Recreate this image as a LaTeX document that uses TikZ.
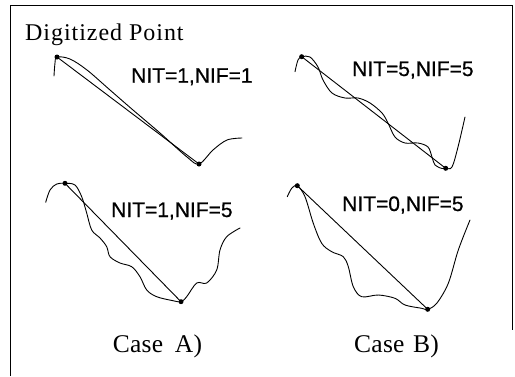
\documentclass[tikz,border=0pt]{standalone}
\usepackage{fontspec}
\setmainfont{Liberation Serif}
\newfontfamily\labelsans{Liberation Sans}
\begin{document}
\begin{tikzpicture}[x=1pt,y=-1pt,
  curve/.style={line width=0.9pt,line join=round,line cap=round},
  chord/.style={line width=0.9pt},
  digpt/.style={circle,fill=black,inner sep=0pt,minimum size=5pt},
  caselabel/.style={anchor=base west,inner sep=0pt,font=\fontsize{25.5}{30}\selectfont\addfontfeatures{LetterSpace=1}},
  nitlabel/.style={anchor=base west,inner sep=0pt,font=\labelsans\fontsize{21}{25}\selectfont\addfontfeatures{FakeBold=0.6}}]
\useasboundingbox (0,0) rectangle (515,376);

% open frame
\draw[line width=0.9pt] (10,376) -- (10,5.5) -- (512.5,5.5) -- (512.5,330);

% titles and captions
\node[anchor=base west,inner sep=0pt,font=\fontsize{24}{28}\selectfont\addfontfeatures{LetterSpace=4}] (title) at (25,40) {Digitized Point};
\node[caselabel] (casea) at (112.7,352.3) {Case\hspace{5pt} A)};
\node[caselabel] (caseb) at (354,352.3) {Case\hspace{2pt} B)};

% parameter labels
\node[nitlabel] (l1) at (131,82.7) {NIT=1,NIF=1};
\node[nitlabel] (l2) at (352,76) {NIT=5,NIF=5};
\node[nitlabel] (l3) at (111,217) {NIT=1,NIF=5};
\node[nitlabel] (l4) at (342,211) {NIT=0,NIF=5};

% digitized end points
\node[digpt] (a1) at (57,57) {};
\node[digpt] (b1) at (199,164) {};
\node[digpt] (a2) at (301.7,56.7) {};
\node[digpt] (b2) at (445.7,168.3) {};
\node[digpt] (a3) at (65,183.3) {};
\node[digpt] (b3) at (181,301.7) {};
\node[digpt] (a4) at (297.3,185.7) {};
\node[digpt] (b4) at (427.7,309.3) {};

% chords between digitized points
\draw[chord] (a1.center) -- (b1.center);
\draw[chord] (a2.center) -- (b2.center);
\draw[chord] (a3.center) -- (b3.center);
\draw[chord] (a4.center) -- (b4.center);

% fitted curves
\draw[curve] plot[smooth,tension=0.55] coordinates {
  (54,76) (55,63) (57,57) (70,59) (87,70) (110,90) (133,110) (160,133)
  (187,157) (199,164) (213,150) (227,140) (242,138)};

\draw[curve] plot[smooth,tension=0.55] coordinates {
  (295,71.7) (298,60) (302,56.7) (310,57) (318,67) (323,80) (332,93)
  (345,98) (358,98) (370,103) (382,113) (388,123) (395,137) (405,143)
  (418,143) (428,147) (432,157) (435,165) (442,168.5) (446,168.3)
  (452,167) (458,147) (465,117)};

\draw[curve] plot[smooth,tension=0.55] coordinates {
  (45.7,202.3) (50,190) (56.7,184) (65,183.3) (75,185) (81.7,196.7)
  (86.7,213) (91.7,230) (100,238) (106.7,246.7) (110,256.7) (120,263)
  (131.7,266.7) (140,276.7) (146.7,290) (156.7,296.7) (173,300.7)
  (181,301.7) (186.7,296.7) (196.7,283) (206.7,283) (216.7,270)
  (220,250) (226.7,236.7) (240,228)};

\draw[curve] plot[smooth,tension=0.55] coordinates {
  (287.3,196.7) (291.7,188.3) (297.3,185.7) (305,196.7) (313.3,223.3)
  (321.7,243.3) (331.7,251.7) (343.3,256.7) (348.3,266.7) (353.3,286.7)
  (361.7,296.7) (378.3,295) (395,298.3) (405,305) (421.7,308.3)
  (427.7,309.3) (436.7,303.3) (448.3,283.3) (458.3,250) (470,220)};
\end{tikzpicture}
\end{document}
